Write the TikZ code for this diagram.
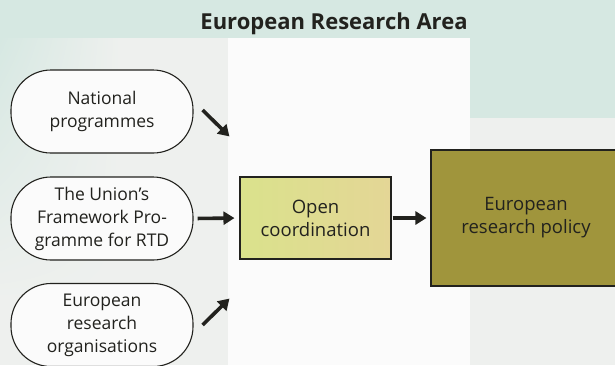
\documentclass[tikz,border=0pt]{standalone}
\usepackage{fontspec}
\setmainfont{Open Sans}
\usetikzlibrary{arrows.meta,calc,shadings}
\definecolor{bgbase}{RGB}{238,240,238}
\definecolor{bgteal}{RGB}{214,232,226}
\definecolor{bgwhite}{RGB}{251,251,251}
\definecolor{openL}{RGB}{218,226,140}
\definecolor{openR}{RGB}{228,214,150}
\definecolor{policy}{RGB}{160,149,60}
\definecolor{ink}{RGB}{34,34,30}
\tikzset{
  source/.style={draw=ink, line width=1.1bp, rounded corners=40bp, fill=bgwhite,
    minimum width=182bp, minimum height=83bp, align=center, text=ink,
    font=\fontsize{17.5bp}{23bp}\selectfont, inner sep=0pt},
  block/.style={draw=ink, line width=1.1bp, align=center, text=ink,
    font=\fontsize{18.5bp}{23bp}\selectfont, inner sep=0pt},
  flow/.style={line width=3.6bp, draw=ink, -{Triangle[length=11bp,width=13bp]}},
}
\begin{document}
\begin{tikzpicture}[x=1bp,y=-1bp]
\useasboundingbox (0,0) rectangle (615,365);
% background panels
\fill[bgbase] (0,0) rectangle (615,365);
\fill[bgteal] (0,0) rectangle (615,38);
\fill[bgteal] (470,0) rectangle (615,118);
\shade[upper left=bgteal, upper right=bgbase, lower left=bgbase, lower right=bgbase] (0,38) rectangle (120,300);
\fill[bgwhite] (228,38) rectangle (470,365);
% title
\node[text=ink, font=\fontsize{22bp}{24bp}\selectfont\bfseries] (title) at (334,24) {European Research Area};
% source programmes
\node[source] (nat) at (102,111.5) {National\\programmes};
\node[source] (union) at (102,218.5) {The Union’s\\Framework Pro-\\gramme for RTD};
\node[source] (org) at (102,325) {European\\research\\organisations};
% coordination and policy
\node[block, left color=openL, right color=openR, minimum width=151bp, minimum height=82bp] (open) at (315.5,218) {Open\\coordination};
\node[block, fill=policy, minimum width=190bp, minimum height=136bp] (pol) at (526,218) {European\\research policy};
% arrow end points
\coordinate (n1) at ($(nat.east)+(9,-1.5)$);
\coordinate (n2) at ($(open.north west)+(-10,-40)$);
\coordinate (o1) at ($(org.east)+(9,0)$);
\coordinate (o2) at ($(open.south west)+(-10,39)$);
\draw[flow] (n1) -- (n2);
\draw[flow, shorten <=4bp, shorten >=5bp] (union.east) -- (open.west);
\draw[flow] (o1) -- (o2);
\draw[flow, shorten <=1bp, shorten >=4bp] (open.east) -- (pol.west);
\end{tikzpicture}
\end{document}
